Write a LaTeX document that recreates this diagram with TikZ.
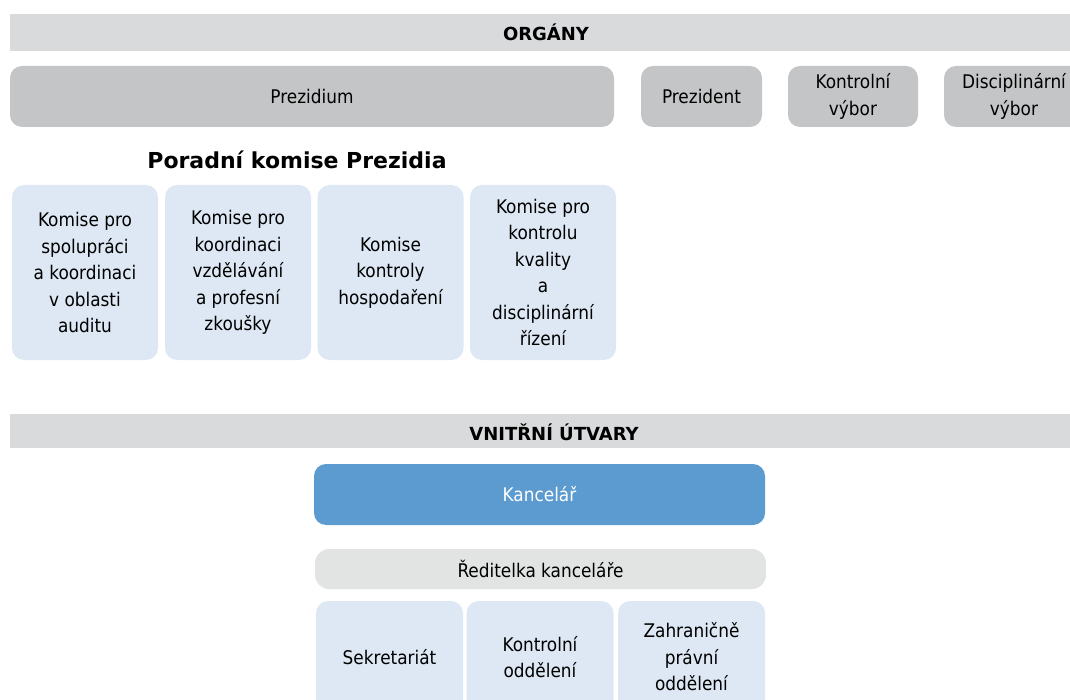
\documentclass[tikz,border=0pt]{standalone}
\usepackage{fontspec}
\setmainfont{DejaVu Sans Condensed}
\newfontfamily\widefont{DejaVu Sans}
\definecolor{bargray}{HTML}{D9DADB}
\definecolor{organgray}{HTML}{C4C5C6}
\definecolor{lightblue}{HTML}{DDE8F4}
\definecolor{kancblue}{HTML}{5B9BD0}
\definecolor{redgray}{HTML}{E2E3E3}
\begin{document}
\begin{tikzpicture}[x=1pt,y=-1pt,
  box/.style={rounded corners=12pt, inner sep=0pt, align=center,
    font=\fontsize{18.8}{26.5}\selectfont},
  organ/.style={box, fill=organgray, minimum height=61pt},
  komise/.style={box, fill=lightblue, minimum width=146pt, minimum height=175pt},
  odd/.style={box, fill=lightblue, minimum width=147pt, minimum height=112pt},
  bar/.style={fill=bargray, inner sep=0pt, minimum width=1070pt, anchor=north west},
  barlabel/.style={font=\widefont\fontsize{18}{20}\selectfont\bfseries, inner sep=0pt},
  heading/.style={font=\widefont\fontsize{22}{24}\selectfont\bfseries, inner sep=0pt}]
\useasboundingbox (0,0) rectangle (1070,700);
\clip (0,0) rectangle (1070,700);
% ORGANY
\node[bar, minimum height=37pt] (organybar) at (10,14) {};
\node[barlabel] (organy) at (546,32) {ORGÁNY};
\node[organ, minimum width=604pt] (prezidium) at (312,96.5) {Prezidium};
\node[organ, minimum width=121pt] (prezident) at (701.5,96.5) {Prezident};
\node[organ, minimum width=130pt] (kvybor) at (853,96.5) {Kontrolní\\výbor};
\node[organ, minimum width=140pt] (dvybor) at (1014,96.5) {Disciplinární\\výbor};
% Poradni komise
\node[heading] (poradni) at (297,160) {Poradní komise Prezidia};
\node[komise] (k1) at (85,272.5) {Komise pro\\spolupráci\\a koordinaci\\v oblasti\\auditu};
\node[komise] (k2) at (238,272.5) {Komise pro\\koordinaci\\vzdělávání\\a profesní\\zkoušky};
\node[komise] (k3) at (390.5,272.5) {Komise\\kontroly\\hospodaření};
\node[komise] (k4) at (543,272.5) {Komise pro\\kontrolu\\kvality\\a\\disciplinární\\řízení};
% VNITRNI UTVARY
\node[bar, minimum height=34pt] (utvarybar) at (10,414) {};
\node[barlabel] (utvary) at (554,432) {VNITŘNÍ ÚTVARY};
\node[box, fill=kancblue, text=white, minimum width=451pt, minimum height=61pt] (kancelar) at (539.5,494.5) {Kancelář};
\node[box, fill=redgray, rounded corners=14pt, minimum width=451pt, minimum height=40pt] (reditelka) at (540.5,569) {Ředitelka kanceláře};
\node[odd] (sekr) at (389.5,657) {Sekretariát};
\node[odd] (kodd) at (540,657) {Kontrolní\\oddělení};
\node[odd] (zodd) at (691.5,657) {Zahraničně\\právní\\oddělení};
\end{tikzpicture}
\end{document}
